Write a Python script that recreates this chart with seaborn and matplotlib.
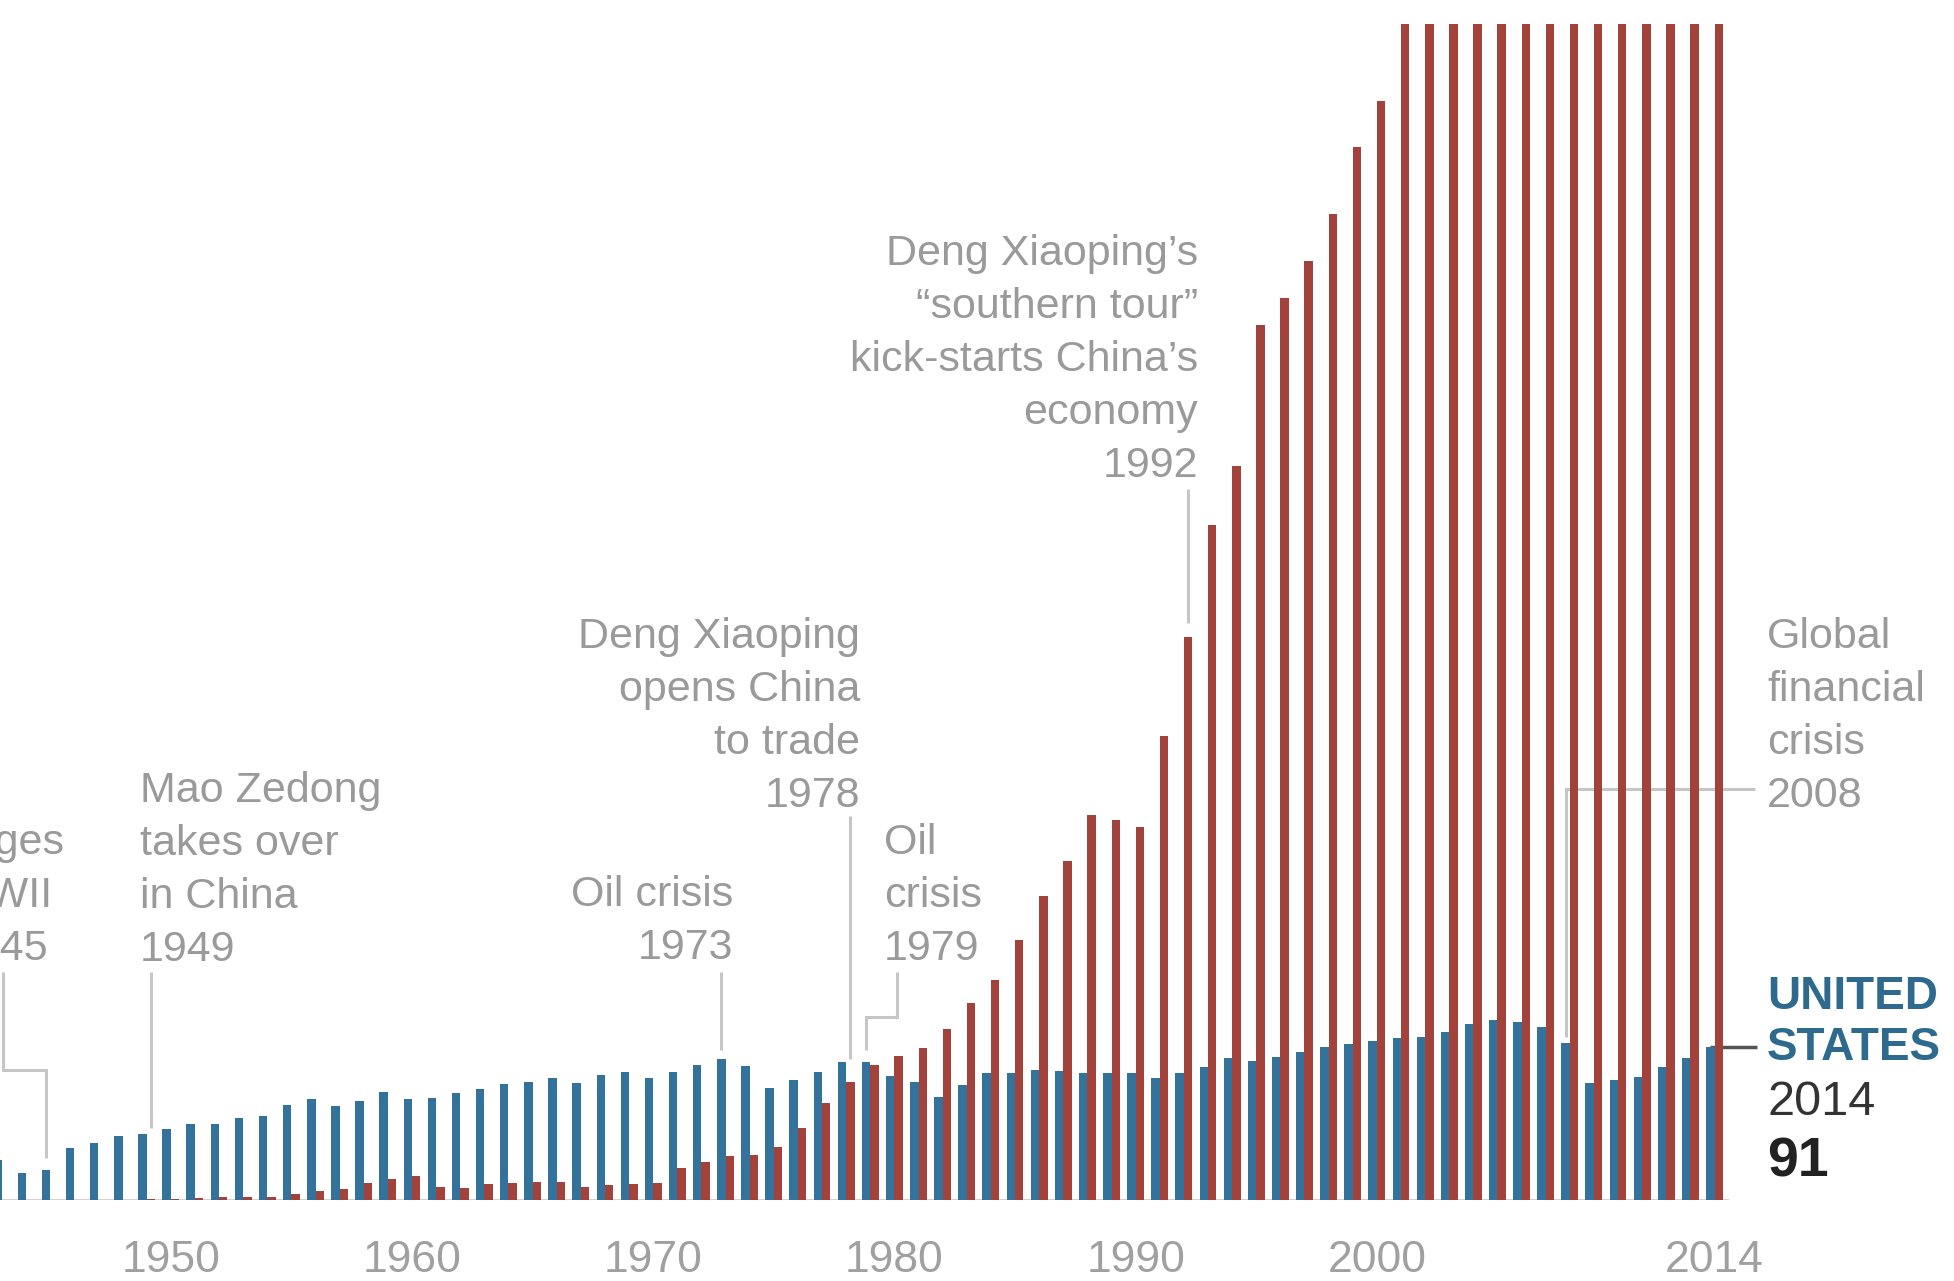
import pandas as pd
import seaborn as sns
import matplotlib.pyplot as plt

# yearly values (United States = blue, China = red)
years = list(range(1943, 2015))
us_values = [24, 16, 18, 31, 34, 38, 39, 42, 45, 45,
             49, 50, 56.5, 60, 56, 59, 64.5, 60, 61, 63.5,
             66, 69, 70.4, 72.4, 69.4, 74.4, 76.4, 72.4, 76.4, 80.4,
             83.7, 79.8, 66.5, 71.4, 76.4, 82.3, 82.3, 73.6, 70.4, 61.5,
             68.5, 75.4, 75.8, 77.4, 77, 75.8, 75.8, 75.4, 72.4, 75.4,
             79.4, 84.3, 83, 85.3, 88.3, 90.9, 92.7, 94.8, 96.2, 96.8,
             100.2, 104.8, 107.1, 106.2, 103.2, 93.3, 69.4, 71.4, 73.4, 79.4,
             84.3, 91.3]
# China from 2001 on runs off the top of the chart: values are estimates
china_values = [0, 0, 0, 0, 0, 0, 0.3, 0.6, 1, 2,
                1.8, 1.8, 3.6, 5.6, 6.3, 9.9, 12.5, 14.5, 7.9, 6.9,
                9.4, 9.9, 10.9, 10.9, 7.5, 8.9, 9.5, 9.9, 19.2, 22.8,
                26.4, 26.8, 31.7, 42.7, 57.5, 70.4, 80.4, 86, 90.6, 102,
                117, 131, 155, 181, 202, 229, 226, 222, 276, 335,
                402, 437, 521, 537, 559, 587, 627, 654, 720, 790,
                860, 960, 1060, 1230, 1360, 1390, 1630, 1870, 2060, 2180,
                2420, 2480]
tick_years = [1950, 1960, 1970, 1980, 1990, 2000, 2010, 2014]
tick_labels = ['1950', '1960', '1970', '1980', '1990', '2000', '', '2014']

blue = '#33739b'
red = '#a3423a'
grey_text = '#9a9a9a'
grey_line = '#c6c6c6'

n = len(years)
df = pd.DataFrame({
    'year': [str(y) for y in years] * 2,
    'country': ['United States'] * n + ['China'] * n,
    'value': us_values + china_values,
})

sns.set_style('white')
plt.rcParams['font.family'] = ['Liberation Sans', 'DejaVu Sans']

fig = plt.figure(figsize=(19.54, 12.81), dpi=100)
ax = fig.add_axes([0, 81 / 1281, 1729 / 1954, 1176 / 1281])

sns.barplot(data=df, x='year', y='value', hue='country',
            order=[str(y) for y in years],
            hue_order=['United States', 'China'],
            palette={'United States': blue, 'China': red},
            saturation=1, width=0.7, errorbar=None, legend=False,
            linewidth=0, ax=ax)

ax.set_xlim(-0.08, 71.6)
ax.set_ylim(0, 700)
ax.set_xlabel('')
ax.set_ylabel('')
ax.set_yticks([])
ax.set_xticks([y - years[0] for y in tick_years])
ax.set_xticklabels(tick_labels)
for s in ax.spines.values():
    s.set_visible(False)
ax.spines['bottom'].set_position(('outward', 6))
ax.tick_params(axis='x', direction='out', length=11, width=1.4,
               color='#b8b8b8', pad=12, labelsize=32, labelcolor='#a0a0a0')
ax.axhline(0, color='#d2d2d2', lw=1.5, zorder=0.4)

# annotation leader lines
def leader(xs, ys, color=grey_line, lw=2.2):
    ax.plot(xs, ys, color=color, lw=lw, clip_on=False, zorder=0.5,
            solid_capstyle='butt', solid_joinstyle='miter')

leader([0.044, 0.044, 1.825, 1.825], [135.7, 77.4, 77.4, 25])
leader([6.175, 6.175], [135.7, 43])
leader([29.825, 29.825], [135.7, 89.3])
leader([35.175, 35.175], [228.6, 84])
leader([37.11, 37.11, 35.825, 35.825], [135.7, 108.9, 108.9, 89.3])
leader([49.175, 49.175], [423, 343.5])
leader([72.68, 64.825, 64.825], [244.6, 244.6, 97])
leader([70.825, 72.76], [91.3, 91.3], color='#555555', lw=2.5)

note = dict(fontsize=31, color=grey_text, va='center', linespacing=1.42)
ax.text(-0.06, 180.7, 'surges\nWWII\n1945', ha='center', **note)
ax.text(5.72, 196.2, 'Mao Zedong\ntakes over\nin China\n1949', ha='left', **note)
ax.text(30.31, 165.6, 'Oil crisis\n1973', ha='right', **note)
ax.text(35.58, 287.6, 'Deng Xiaoping\nopens China\nto trade\n1978', ha='right', **note)
ax.text(36.57, 180.7, 'Oil\ncrisis\n1979', ha='left', **note)
ax.text(49.59, 499.8,
        'Deng Xiaoping\u2019s\n\u201csouthern tour\u201d\nkick-starts China\u2019s\neconomy\n1992',
        ha='right', **note)
ax.text(73.18, 287.6, 'Global\nfinancial\ncrisis\n2008', ha='left', **note)

# United States end label
ax.text(73.18, 113.4, 'UNITED', fontsize=33, fontweight='bold', color='#2e6a8e',
        ha='left', va='baseline')
ax.text(73.18, 83.6, 'STATES', fontsize=33, fontweight='bold', color='#2e6a8e',
        ha='left', va='baseline')
ax.text(73.18, 50.3, '2014', fontsize=35, color='#333333', ha='left', va='baseline')
ax.text(73.18, 13.7, '91', fontsize=40, fontweight='bold', color='#222222',
        ha='left', va='baseline')

fig.savefig('out.png', dpi=100)
